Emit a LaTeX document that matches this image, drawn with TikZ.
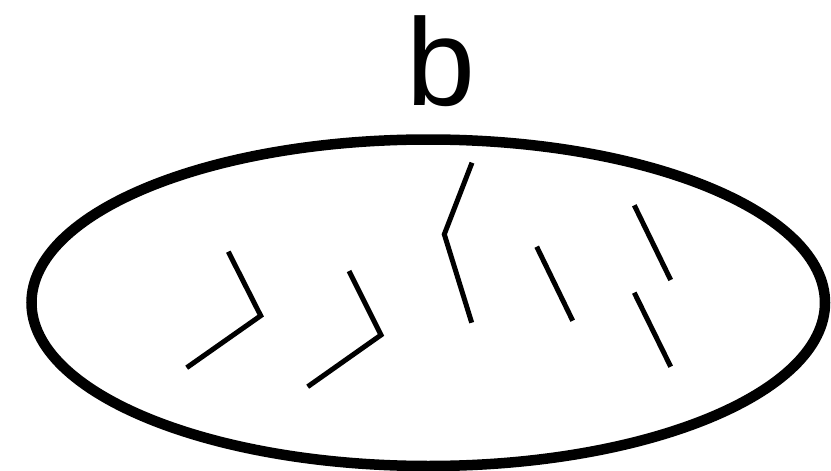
\documentclass[tikz,border=0pt]{standalone}
\usepackage{fontspec}
\setmainfont{Liberation Sans}
\usetikzlibrary{shapes.geometric}
\begin{document}
\begin{tikzpicture}[x=1pt,y=-1pt,
  stroke/.style={line width=5pt,line cap=butt,line join=miter}]
\useasboundingbox (0,0) rectangle (831,471);
\node[draw,ellipse,line width=10.5pt,minimum width=793.5pt,minimum height=326.5pt,inner sep=0pt] (ell) at (428.25,302.75) {};
\node[anchor=base,inner sep=0pt,font=\fontsize{124}{124}\selectfont] (lbl) at (441,105) {b};
\draw[stroke] (228.3,251.7) -- (260.7,315.7) -- (186.7,367.7);
\draw[stroke] (349,271) -- (381,335) -- (307.7,386.7);
\draw[stroke] (472,162.7) -- (444.3,234.3) -- (471.7,322.7);
\draw[stroke] (536.7,246.7) -- (572.7,320.7);
\draw[stroke] (634.3,205.3) -- (670.7,280);
\draw[stroke] (634.3,292.7) -- (670.7,366.7);
\end{tikzpicture}
\end{document}
